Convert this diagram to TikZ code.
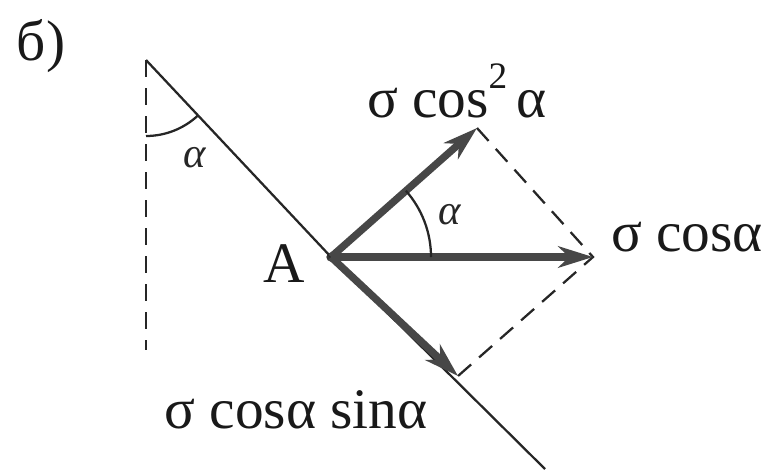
\documentclass[tikz,border=0pt]{standalone}
\usepackage{fontspec}
\setmainfont{Liberation Serif}
\usetikzlibrary{arrows.meta}
\begin{document}
\begin{tikzpicture}[x=0.75pt,y=-0.75pt,
  vec/.style={line width=5.5pt, draw=black!72, -{Stealth[length=26pt,width=16pt,inset=8pt]}},
  thinline/.style={line width=1.7pt, draw=black!85},
  dashline/.style={line width=1.7pt, draw=black!85, dash pattern=on 13pt off 8pt},
  lbl/.style={font=\fontsize{43}{48}\selectfont, inner sep=0pt, anchor=base, text=black!90},
  ang/.style={font=\fontsize{32}{36}\selectfont\itshape, inner sep=0pt, text=black!85},
  dot/.style={circle, fill=black!80, inner sep=0pt, minimum size=7pt}]
\useasboundingbox (0,0) rectangle (774,469);
\coordinate (O) at (146,60);
\coordinate (E) at (545,469);
\coordinate (V) at (146,350);
\coordinate (H) at (593,257);
\coordinate (N) at (477,128);
\coordinate (T) at (458,376);
\node[dot] (A) at (331,257) {};
% inclined line and vertical
\draw[thinline] (O) -- (A.center) -- (E);
\draw[dashline] (O) -- (V);
% angle at top
\draw[thinline] (O) ++(90:76) arc[start angle=90, end angle=46.5, radius=76];
% dashed parallelogram sides
\draw[dashline] (N) -- (H) -- (T);
% vectors
\draw[vec] (A.center) -- (H);
\draw[vec] (A.center) -- (N);
\draw[vec] (A.center) -- (T);
% angle between vectors
\draw[thinline] (A.center) ++(0:100) arc[start angle=0, end angle=-41.5, radius=100];
% labels
\node[lbl] (lb) at (41,60) {б)};
\node[lbl] (lA) at (284,282) {A};
\node[lbl] (l1) at (457,117) {σ cos\raisebox{0.5em}{\fontsize{28}{30}\selectfont 2}\,α};
\node[lbl] (l2) at (687,251) {σ cosα};
\node[lbl] (l3) at (296,428) {σ cosα sinα};
\node[ang] (a1) at (195,158) {α};
\node[ang] (a2) at (450,215) {α};
\end{tikzpicture}
\end{document}
